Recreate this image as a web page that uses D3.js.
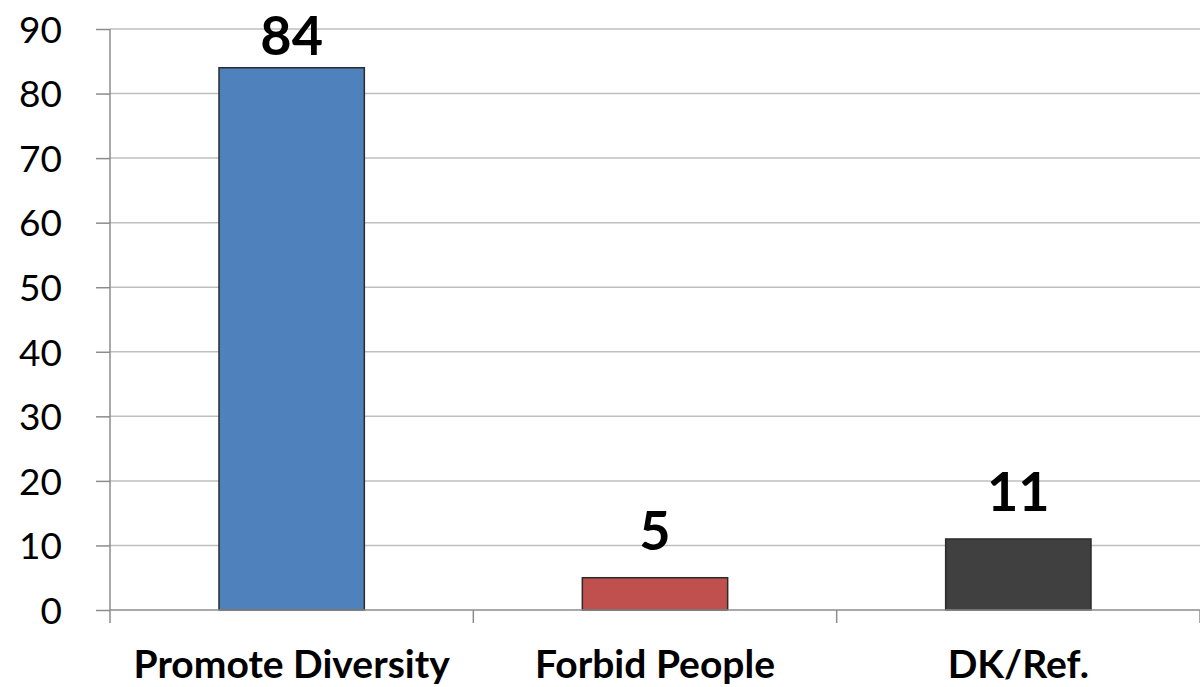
<!DOCTYPE html>
<html><head><meta charset="utf-8">
<script src="https://cdn.jsdelivr.net/npm/d3@7"></script>
<style>body{margin:0;background:#fff}svg{display:block}</style>
</head><body>
<svg id="c" width="1200" height="687"></svg>
<script>
const categories = ["Promote Diversity", "Forbid People", "DK/Ref."];
const values = [84, 5, 11];
const colors = ["#4f81bd", "#c0504d", "#404040"];
const yTicks = [0, 10, 20, 30, 40, 50, 60, 70, 80, 90];

const svg = d3.select("#c");
const L = 110, R = 1200, T = 29, B = 610;
const x = d3.scaleBand().domain(categories).range([L, R]).padding(0);
const y = d3.scaleLinear().domain([0, 90]).range([B, T]);
const font = "Lato, 'Open Sans', sans-serif";

// gridlines
svg.append("g").selectAll("line").data(yTicks.filter(d => d > 0)).join("line")
  .attr("x1", L).attr("x2", R).attr("y1", d => y(d)).attr("y2", d => y(d))
  .attr("stroke", "#bfbfbf").attr("stroke-width", 1.5);

// y axis
const ya = svg.append("g").attr("transform", `translate(${L},0)`)
  .call(d3.axisLeft(y).tickValues(yTicks).tickSize(14).tickPadding(34));
ya.selectAll("path,line").attr("stroke", "#8c8c8c").attr("stroke-width", 1.5);
ya.select("path").attr("d", `M0,${B}V${T}`);
ya.selectAll("text").attr("font-family", font).attr("font-size", 37).attr("fill", "#000")
  .attr("dy", "0.36em");

// bars
const bw = x.bandwidth() * 0.4;
svg.append("g").selectAll("rect").data(categories).join("rect")
  .attr("x", d => x(d) + x.bandwidth() / 2 - bw / 2)
  .attr("width", bw)
  .attr("y", (d, i) => y(values[i]))
  .attr("height", (d, i) => y(0) - y(values[i]))
  .attr("fill", (d, i) => colors[i])
  .attr("stroke", "#2b2b2b").attr("stroke-width", 1.5);

// x axis
const xa = svg.append("g").attr("transform", `translate(0,${B})`);
xa.append("line").attr("x1", L).attr("x2", R).attr("y1", 0).attr("y2", 0)
  .attr("stroke", "#8c8c8c").attr("stroke-width", 1.5);
const bounds = categories.map(c => x(c)).concat([R]);
xa.selectAll("line.tk").data(bounds).join("line").attr("class", "tk")
  .attr("x1", d => d).attr("x2", d => d).attr("y1", 0).attr("y2", 13)
  .attr("stroke", "#8c8c8c").attr("stroke-width", 1.5);
xa.selectAll("text").data(categories).join("text")
  .attr("x", d => x(d) + x.bandwidth() / 2).attr("y", 68)
  .attr("text-anchor", "middle").attr("font-family", font).attr("font-weight", 700)
  .attr("font-size", 39).attr("fill", "#000").text(d => d);

// data labels
svg.append("g").selectAll("text").data(categories).join("text")
  .attr("x", d => x(d) + x.bandwidth() / 2)
  .attr("y", (d, i) => Math.max(y(values[i]) - 28, 55))
  .attr("text-anchor", "middle").attr("font-family", font).attr("font-weight", 700)
  .attr("font-size", 54).attr("fill", "#000").text((d, i) => values[i]);
</script>
</body></html>
